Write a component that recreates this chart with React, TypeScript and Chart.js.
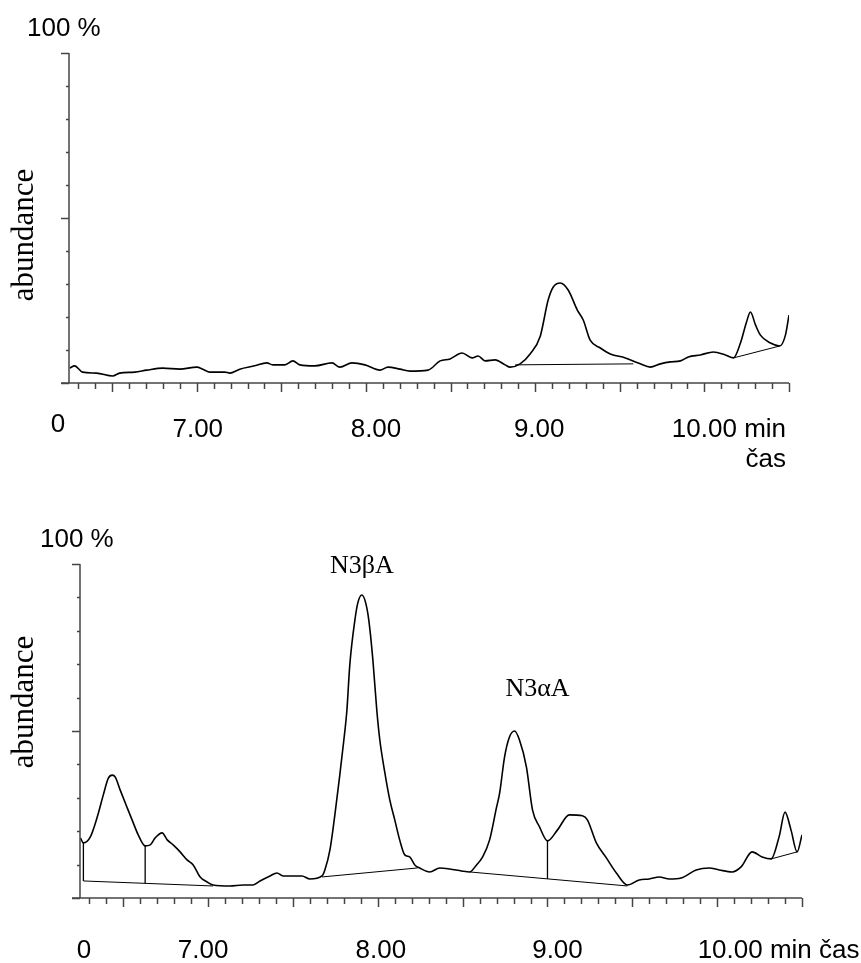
import React, { useEffect, useRef } from "react";
import { Chart, registerables } from "chart.js";

Chart.register(...registerables);

// ---------- data: upper chromatogram ----------
const topTime = [
  6.249, 6.278, 6.325, 6.408, 6.503, 6.544, 6.633, 6.704, 6.799, 6.899, 7.0, 7.036, 7.077, 7.166, 7.195,
  7.254, 7.343, 7.414, 7.45, 7.521, 7.568, 7.609, 7.698, 7.799, 7.846, 7.917, 7.994, 8.083, 8.13, 8.201,
  8.26, 8.367, 8.438, 8.497, 8.568, 8.627, 8.663, 8.704, 8.763, 8.822, 8.852, 8.911, 8.97, 9.03, 9.077,
  9.107, 9.148, 9.195, 9.249, 9.284, 9.325, 9.385, 9.444, 9.533, 9.621, 9.68, 9.74, 9.799, 9.858, 9.905,
  9.976, 10.053, 10.124, 10.172, 10.213, 10.249, 10.272, 10.302, 10.331, 10.391, 10.444, 10.479, 10.5,
];
const topAbundance = [
  4.5, 5.2, 3.3, 3.0, 2.1, 3.0, 3.3, 3.9, 4.5, 4.2, 4.8, 4.2, 3.3, 3.3, 3.0,
  4.2, 5.2, 6.1, 5.5, 5.5, 6.7, 5.5, 5.2, 6.1, 4.8, 6.1, 5.5, 3.9, 4.8, 4.2,
  3.6, 3.9, 6.7, 7.3, 9.1, 7.6, 8.2, 6.7, 7.0, 5.5, 4.8, 5.8, 8.8, 14.2, 25.2,
  29.1, 30.3, 28.2, 22.1, 19.1, 13.0, 10.6, 8.8, 7.6, 5.8, 4.8, 5.8, 6.4, 6.7, 7.9,
  8.5, 9.4, 8.5, 7.6, 12.1, 18.5, 21.5, 17.6, 14.5, 12.1, 11.2, 14.5, 20.6,
];
// integration baselines (start time, start value, end time, end value)
const topBaseA = [8.882, 5.5, 9.58, 5.8];
const topBaseB = [10.172, 7.6, 10.444, 11.2];

// ---------- data: lower chromatogram ----------
const bottomTime = [
  6.247, 6.265, 6.306, 6.347, 6.382, 6.412, 6.435, 6.453, 6.482, 6.524, 6.559, 6.588, 6.629, 6.659, 6.688,
  6.729, 6.759, 6.794, 6.835, 6.876, 6.912, 6.953, 6.994, 7.029, 7.129, 7.206, 7.265, 7.306, 7.365, 7.406,
  7.441, 7.5, 7.553, 7.6, 7.671, 7.688, 7.718, 7.747, 7.776, 7.8, 7.818, 7.835, 7.865, 7.882, 7.906,
  7.929, 7.947, 7.971, 7.994, 8.012, 8.041, 8.071, 8.1, 8.129, 8.159, 8.188, 8.218, 8.247, 8.306, 8.365,
  8.424, 8.494, 8.541, 8.582, 8.618, 8.659, 8.7, 8.718, 8.747, 8.776, 8.806, 8.835, 8.876, 8.912, 8.953,
  9.0, 9.059, 9.129, 9.206, 9.235, 9.288, 9.347, 9.406, 9.471, 9.541, 9.6, 9.659, 9.718, 9.788, 9.876,
  9.953, 10.012, 10.088, 10.141, 10.206, 10.265, 10.318, 10.365, 10.4, 10.435, 10.471, 10.5,
];
const bottomAbundance = [
  18.0, 16.5, 18.3, 24.3, 30.8, 35.9, 36.8, 36.2, 32.3, 26.9, 22.5, 18.9, 15.6, 15.9, 18.0,
  19.5, 17.4, 15.9, 13.8, 11.4, 9.9, 6.3, 4.8, 3.9, 3.6, 3.9, 3.9, 5.1, 6.6, 7.5,
  6.6, 6.6, 6.6, 5.7, 6.6, 8.4, 14.4, 24.9, 36.8, 47.3, 56.3, 69.8, 83.2, 88.3, 90.7,
  88.3, 83.2, 71.3, 56.3, 47.3, 37.7, 29.3, 23.4, 17.4, 12.9, 12.3, 9.9, 9.0, 7.8, 9.0,
  8.7, 8.1, 7.8, 9.9, 12.3, 17.4, 27.2, 31.4, 42.2, 48.2, 50.0, 47.3, 39.2, 26.3, 21.3,
  17.1, 20.4, 24.9, 24.6, 23.4, 16.5, 12.0, 7.5, 3.9, 5.4, 5.7, 6.3, 5.7, 6.0, 8.4,
  9.0, 8.4, 7.8, 9.3, 13.8, 12.3, 11.7, 18.3, 25.7, 20.4, 13.8, 18.9,
];
const bottomBaseA = [6.265, 5.1, 7.029, 3.6];
const bottomBaseB = [7.671, 6.3, 8.235, 9.0];
const bottomBaseC = [8.541, 7.8, 9.471, 3.6];
const bottomBaseD = [10.318, 11.7, 10.471, 13.8];
// vertical drop lines (time, top value, bottom value)
const bottomDropA = [6.265, 16.5, 5.1];
const bottomDropB = [6.629, 15.6, 4.4];
const bottomDropC = [9.0, 17.1, 5.7];

// peak annotations
const peakNames = ["N3βA", "N3αA"];
const peakNameTimes = [7.906, 8.941];
const peakNameLevels = [97.3, 60.5];

// axis text
const xLabelValues = [7, 8, 9, 10];
const xLabelTexts = ["7.00", "8.00", "9.00", "10.00"];
const yTickValues = [0, 10, 20, 30, 40, 50, 60, 70, 80, 90, 100];
const X_MIN = 6.245;
const X_MAX = 10.5;

const SANS = "'Liberation Sans', Arial, Helvetica, sans-serif";
const SERIF = "'Liberation Serif', 'Times New Roman', serif";

function seg(a: number[]) {
  return [
    { x: a[0], y: a[1] },
    { x: a[2], y: a[3] },
  ];
}
function drop(a: number[]) {
  return [
    { x: a[0], y: a[1] },
    { x: a[0], y: a[2] },
  ];
}

const axesPlugin = {
  id: "chromAxes",
  afterDatasetsDraw(chart: any, _args: any, o: any) {
    const ctx = chart.ctx;
    const xs = chart.scales.x;
    const ys = chart.scales.y;
    const x0 = xs.left;
    const x1 = xs.right;
    const yb = ys.bottom;
    const yt = ys.top;
    ctx.save();
    ctx.strokeStyle = "#444";
    ctx.lineWidth = 1.5;
    ctx.lineCap = "butt";
    const line = (a: number, b: number, c: number, d: number) => {
      ctx.beginPath();
      ctx.moveTo(a, b);
      ctx.lineTo(c, d);
      ctx.stroke();
    };
    // axes
    line(x0, yt, x0, yb);
    line(x0 - 8, yb, x1, yb);
    // y ticks
    yTickValues.forEach((v) => {
      const py = Math.round(ys.getPixelForValue(v)) + 0.5;
      const len = v % 50 === 0 ? 8 : 3;
      line(x0 - len, py, x0, py);
    });
    // x ticks every 0.1 min
    for (let i = 63; i <= 105; i++) {
      const px = Math.round(xs.getPixelForValue(i / 10)) + 0.5;
      const len = i % 5 === 0 ? 9 : 6;
      line(px, yb, px, yb + len);
    }
    // text
    ctx.fillStyle = "#000";
    ctx.font = `26px ${SANS}`;
    ctx.textBaseline = "alphabetic";
    // 100 %
    ctx.textAlign = "left";
    ctx.fillText("100 %", x0 + o.pctDx, yt + o.pctDy);
    // "0" at origin
    ctx.textAlign = "center";
    ctx.fillText("0", x0 + o.zeroDx, yb + o.zeroDy);
    // time labels
    xLabelValues.forEach((v, i) => {
      const px = xs.getPixelForValue(v);
      const txt = xLabelTexts[i];
      if (i === xLabelValues.length - 1) {
        const w = ctx.measureText(txt).width;
        ctx.textAlign = "left";
        const left = px - w / 2 + o.lastDx;
        if (o.casBelow) {
          const full = txt + " min";
          ctx.fillText(full, left, yb + o.labelDy);
          const fw = ctx.measureText(full).width;
          ctx.textAlign = "right";
          ctx.fillText("čas", left + fw, yb + o.labelDy + 30);
        } else {
          ctx.fillText(txt + " min čas", left, yb + o.labelDy);
        }
      } else {
        ctx.textAlign = "center";
        ctx.fillText(txt, px + (o.labelDx ? o.labelDx[i] : 0), yb + o.labelDy);
      }
    });
    // abundance (rotated)
    ctx.font = `31px ${SERIF}`;
    ctx.save();
    ctx.translate(x0 + o.abDx, (yt + yb) / 2 + o.abDy);
    ctx.rotate(-Math.PI / 2);
    ctx.textAlign = "center";
    ctx.fillText("abundance", 0, 0);
    ctx.restore();
    // peak names
    if (o.peaks) {
      ctx.font = `26px ${SERIF}`;
      ctx.textAlign = "center";
      peakNames.forEach((n, i) => {
        ctx.fillText(n, xs.getPixelForValue(peakNameTimes[i]), ys.getPixelForValue(peakNameLevels[i]));
      });
    }
    ctx.restore();
  },
};

function buildChart(canvas: HTMLCanvasElement, datasets: any[], padding: any, pluginOpts: any) {
  return new Chart(canvas, {
    type: "line",
    data: { datasets },
    options: {
      animation: false,
      responsive: false,
      maintainAspectRatio: false,
      parsing: true,
      layout: { padding },
      elements: { point: { radius: 0 } },
      plugins: {
        legend: { display: false },
        tooltip: { enabled: false },
        chromAxes: pluginOpts,
      } as any,
      scales: {
        x: { type: "linear", min: X_MIN, max: X_MAX, display: false },
        y: { type: "linear", min: 0, max: 100, display: false },
      },
    },
    plugins: [axesPlugin],
  });
}

const traceStyle = {
  borderColor: "#000",
  borderWidth: 1.6,
  pointRadius: 0,
  cubicInterpolationMode: "monotone",
  fill: false,
};
const thinStyle = { borderColor: "#000", borderWidth: 1, pointRadius: 0, tension: 0, fill: false };

export default function App() {
  const topRef = useRef<HTMLCanvasElement>(null);
  const botRef = useRef<HTMLCanvasElement>(null);

  useEffect(() => {
    const topData = [
      { ...traceStyle, data: topTime.map((t, i) => ({ x: t, y: topAbundance[i] })) },
      { ...thinStyle, data: seg(topBaseA) },
      { ...thinStyle, data: seg(topBaseB) },
    ];
    const botData = [
      { ...traceStyle, data: bottomTime.map((t, i) => ({ x: t, y: bottomAbundance[i] })) },
      { ...thinStyle, data: seg(bottomBaseA) },
      { ...thinStyle, data: seg(bottomBaseB) },
      { ...thinStyle, data: seg(bottomBaseC) },
      { ...thinStyle, data: seg(bottomBaseD) },
      { ...thinStyle, borderWidth: 1.3, data: drop(bottomDropA) },
      { ...thinStyle, borderWidth: 1.3, data: drop(bottomDropB) },
      { ...thinStyle, borderWidth: 1.3, data: drop(bottomDropC) },
    ];
    const c1 = buildChart(
      topRef.current!,
      topData,
      { left: 69, right: 72, top: 53, bottom: 97 },
      { pctDx: -42, pctDy: -17, zeroDx: -11, zeroDy: 49, labelDy: 54, lastDx: 0, casBelow: true, abDx: -36, abDy: 17, peaks: false, labelDx: [1, 10, 4] }
    );
    const c2 = buildChart(
      botRef.current!,
      botData,
      { left: 80, right: 59, top: 84, bottom: 65 },
      { pctDx: -40, pctDy: -17, zeroDx: 4, zeroDy: 60, labelDy: 60, lastDx: 13, casBelow: false, abDx: -47, abDy: -29, peaks: true, labelDx: [-5, 3, 10] }
    );
    return () => {
      c1.destroy();
      c2.destroy();
    };
  }, []);

  return (
    <div style={{ position: "absolute", left: 0, top: 0, width: 861, height: 963, background: "#fff" }}>
      <canvas ref={topRef} width={861} height={480} style={{ position: "absolute", left: 0, top: 0, width: 861, height: 480 }} />
      <canvas ref={botRef} width={861} height={483} style={{ position: "absolute", left: 0, top: 480, width: 861, height: 483 }} />
    </div>
  );
}
